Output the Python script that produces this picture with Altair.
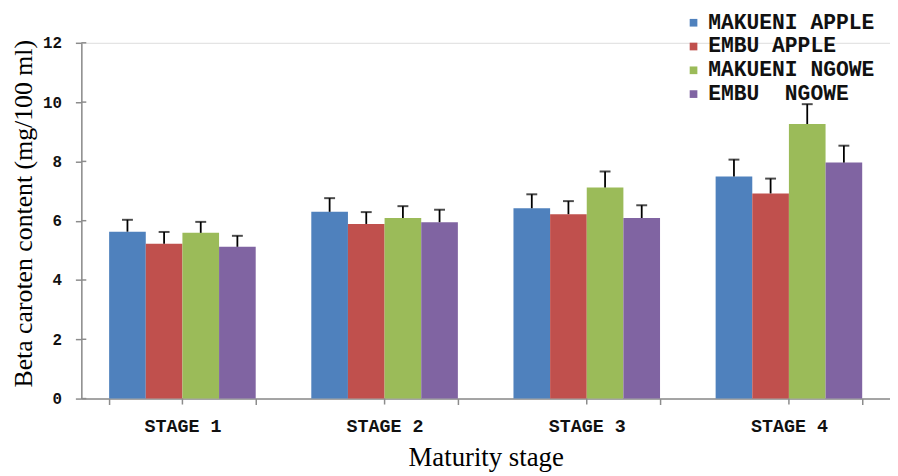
import altair as alt
import pandas as pd

stages = ["STAGE 1", "STAGE 2", "STAGE 3", "STAGE 4"]
series = ["MAKUENI APPLE", "EMBU APPLE", "MAKUENI NGOWE", "EMBU\u00a0\u00a0NGOWE"]
colors = ["#4F81BD", "#C0504D", "#9BBB59", "#8064A2"]
y_ticks = [0, 2, 4, 6, 8, 10, 12]

makueni_apple = [5.63, 6.30, 6.42, 7.49]
makueni_apple_err = [0.40, 0.46, 0.47, 0.57]
embu_apple = [5.22, 5.89, 6.22, 6.92]
embu_apple_err = [0.40, 0.40, 0.44, 0.50]
makueni_ngowe = [5.59, 6.09, 7.12, 9.26]
makueni_ngowe_err = [0.37, 0.40, 0.54, 0.67]
embu_ngowe = [5.12, 5.95, 6.09, 7.96]
embu_ngowe_err = [0.37, 0.42, 0.43, 0.57]

values = [makueni_apple, embu_apple, makueni_ngowe, embu_ngowe]
errors = [makueni_apple_err, embu_apple_err, makueni_ngowe_err, embu_ngowe_err]

rows = []
for si, s in enumerate(series):
    for gi, g in enumerate(stages):
        rows.append({"stage": g, "series": s, "order": si,
                     "value": values[si][gi], "top": values[si][gi] + errors[si][gi]})
df = pd.DataFrame(rows)

W, H = 816, 359
AXIS_GREY = "#8c8c8c"
LABEL_FONT = "Liberation Mono"

x = alt.X("stage:N", sort=stages,
          scale=alt.Scale(paddingInner=0.275, paddingOuter=0.1375),
          axis=alt.Axis(title="Maturity stage", labelAngle=0, tickBand="extent",
                        tickSize=6, tickColor=AXIS_GREY, domainColor=AXIS_GREY,
                        domainWidth=1.5, tickWidth=1.5,
                        labelFont=LABEL_FONT, labelFontWeight="bold", labelFontSize=18.5,
                        labelColor="#111", labelPadding=12,
                        titleFont="Liberation Serif", titleFontSize=27,
                        titleFontWeight="normal", titleColor="#000",
                        titleBaseline="alphabetic", titleY=68))
xo = alt.XOffset("series:N", sort=series)

y = alt.Y("value:Q",
          scale=alt.Scale(domain=[0, 12], nice=False),
          axis=alt.Axis(title="Beta caroten content (mg/100 ml)", values=y_ticks,
                        grid=False, tickSize=6, tickColor=AXIS_GREY, domainColor=AXIS_GREY,
                        domainWidth=1.5, tickWidth=1.5,
                        labelFont=LABEL_FONT, labelFontWeight="bold", labelFontSize=16,
                        labelColor="#111", labelPadding=14,
                        titleFont="Liberation Serif", titleFontSize=26,
                        titleFontWeight="normal", titleColor="#000",
                        titleAngle=270, titleBaseline="middle", titleAlign="center",
                        titleX=-58, titleY=172))

color = alt.Color("series:N", sort=series,
                  scale=alt.Scale(domain=series, range=colors),
                  legend=alt.Legend(title=None, orient="none", legendX=607, legendY=-31,
                                    symbolType="square", symbolSize=60, symbolStrokeWidth=0,
                                    labelFont=LABEL_FONT, labelFontWeight="bold",
                                    labelFontSize=21.5, labelColor="#111",
                                    rowPadding=1, labelOffset=4, labelLimit=300))

bars = alt.Chart(df).mark_bar(strokeWidth=0).encode(x=x, xOffset=xo, y=y, color=color)

err = alt.Chart(df).mark_rule(color="#000", strokeWidth=1.8).encode(
    x=alt.X("stage:N", sort=stages), xOffset=xo, y="value:Q", y2="top:Q")

caps = alt.Chart(df).mark_tick(color="#000", thickness=2, size=11).encode(
    x=alt.X("stage:N", sort=stages), xOffset=xo, y="top:Q")

center_ticks = alt.Chart(pd.DataFrame({"stage": stages})).mark_rule(
    color=AXIS_GREY, strokeWidth=1.5).encode(
    x=alt.X("stage:N", sort=stages), y=alt.value(H), y2=alt.value(H + 6))

inner_y_ticks = alt.Chart(pd.DataFrame({"v": y_ticks})).mark_rule(
    color=AXIS_GREY, strokeWidth=1.5).encode(
    y=alt.Y("v:Q"), x=alt.value(0), x2=alt.value(5))

chart = alt.layer(bars, err, caps, center_ticks, inner_y_ticks).properties(
    width=W, height=H,
    autosize=alt.AutoSizeParams(type="none"),
    padding={"left": 74, "top": 33, "right": 0, "bottom": 76},
).configure_view(stroke=None).configure(background="white")

chart.save("out.html", embed_options={"renderer": "svg", "actions": False})
